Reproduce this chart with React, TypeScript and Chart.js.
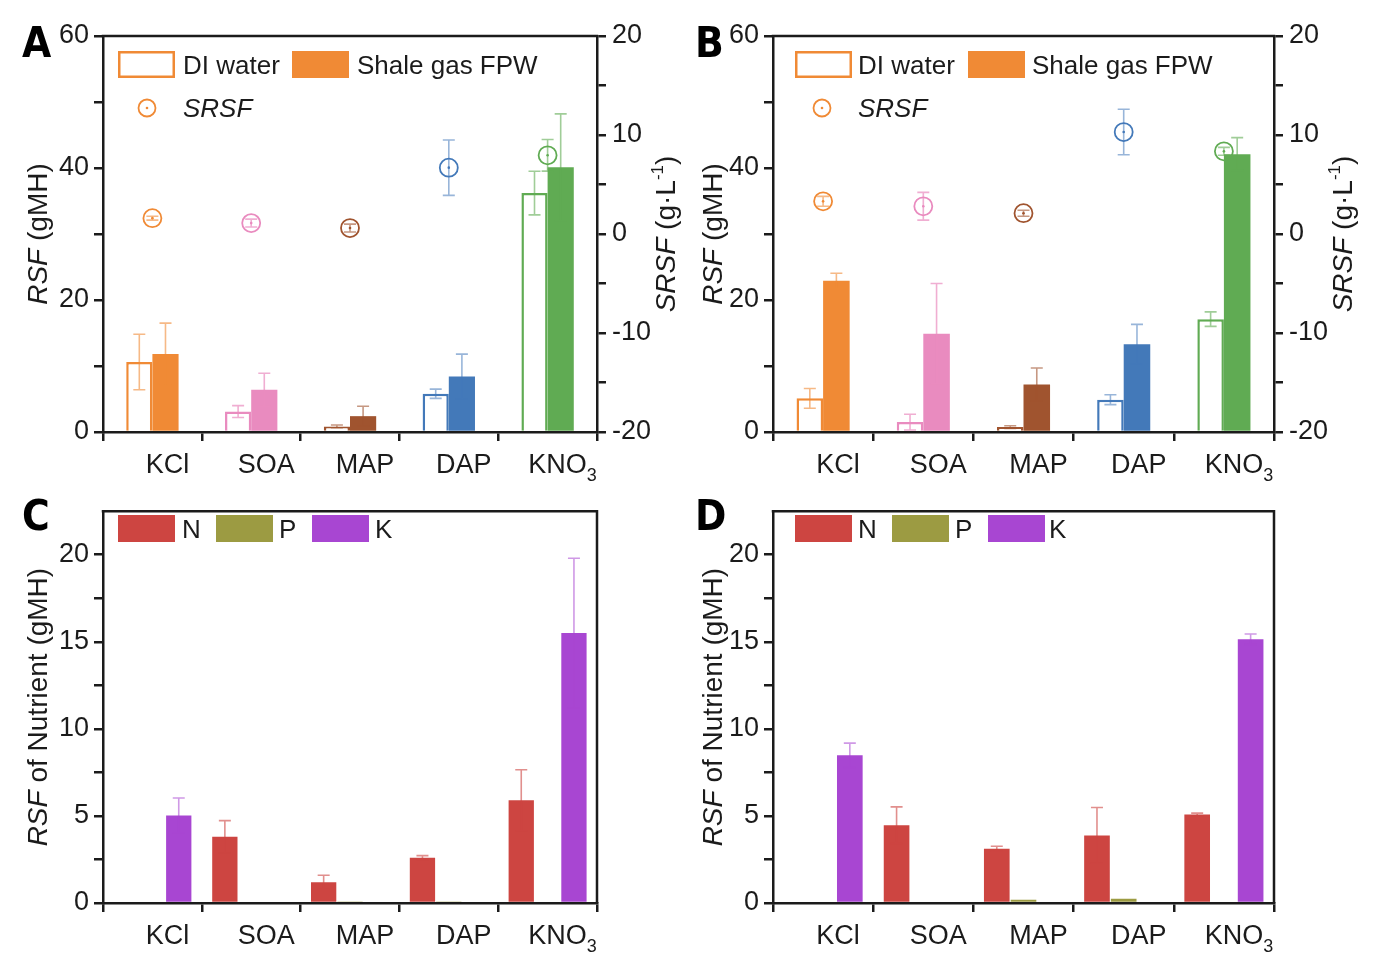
import React, { useEffect, useRef } from "react";
import { Chart, registerables } from "chart.js";

Chart.register(...registerables);

// ---------- data ----------
const categories = ["KCl", "SOA", "MAP", "DAP", "KNO3"];

// Panel A (RSF, gMH; SRSF, g/L)
const rsfDiA = [10.6, 3.1, 0.85, 5.8, 36.2];
const rsfDiErrA = [4.2, 0.9, 0.2, 0.7, 3.3];
const rsfFpwA = [11.8, 6.4, 2.4, 8.4, 40.1];
const rsfFpwErrA = [4.7, 2.5, 1.5, 3.4, 8.1];
const srsfA = [1.6, 1.1, 0.6, 6.7, 7.95];
const srsfErrA = [0.2, 0.4, 0.4, 2.8, 1.6];

// Panel B
const rsfDiB = [5.1, 1.5, 0.75, 4.9, 17.1];
const rsfDiErrB = [1.5, 1.2, 0.2, 0.75, 1.1];
const rsfFpwB = [22.9, 14.9, 7.2, 13.3, 42.1];
const rsfFpwErrB = [1.15, 7.6, 2.5, 3.0, 2.5];
const srsfB = [3.3, 2.8, 2.1, 10.3, 8.35];
const srsfErrB = [0.5, 1.4, 0.3, 2.3, 0.4];

// Panel C (RSF of nutrient, gMH)
const nutrientNC = [null, 3.8, 1.19, 2.6, 5.9];
const nutrientNErrC = [0, 0.93, 0.4, 0.12, 1.75];
const nutrientPC = [null, null, 0.08, 0.08, null];
const nutrientPErrC = [0, 0, 0, 0, 0];
const nutrientKC = [5.03, null, null, null, 15.5];
const nutrientKErrC = [1.0, 0, 0, 0, 4.3];

// Panel D
const nutrientND = [null, 4.47, 3.12, 3.88, 5.08];
const nutrientNErrD = [0, 1.05, 0.14, 1.6, 0.08];
const nutrientPD = [null, null, 0.18, 0.25, null];
const nutrientPErrD = [0, 0, 0, 0, 0];
const nutrientKD = [8.48, null, null, null, 15.15];
const nutrientKErrD = [0.7, 0, 0, 0, 0.3];

const rsfTickLabels = [0, 20, 40, 60];
const srsfTickLabels = [-20, -10, 0, 10, 20];
const nutrientTickLabels = [0, 5, 10, 15, 20];

// ---------- styles ----------
const saltColors = ["#F08A35", "#E98BBF", "#A0542F", "#4379B9", "#60AB53"];
const saltErrColors = [
  "rgba(240,138,53,0.6)",
  "rgba(233,139,191,0.7)",
  "rgba(160,84,47,0.6)",
  "rgba(67,121,185,0.55)",
  "rgba(96,171,83,0.6)",
];
const nutrientColors = ["#CD4541", "#9C9B42", "#A846D2"];
const nutrientErrColors = ["rgba(205,69,65,0.6)", "rgba(156,155,66,0.6)", "rgba(168,70,210,0.55)"];

const FONT = "'Liberation Sans', Arial, Helvetica, sans-serif";
const NARROW = "'Liberation Sans Narrow', 'DejaVu Sans Condensed', 'Liberation Sans', sans-serif";
const INK = "#1b1b1b";
const AXIS_W = 2.5;
const W = 692;
const H = 490;
const TICK_SIZE = 27;
const TITLE_SIZE = 28;
const LEGEND_SIZE = 26;

type Part = { t: string; italic?: boolean; size?: number; dy?: number };
type Area = { l: number; t: number; r: number; b: number };
type LegendItem = {
  kind: "open" | "fill" | "circle";
  x: number;
  y: number;
  color: string;
  label: string;
  italic?: boolean;
  textX: number;
};
type PanelSpec = {
  letter: string;
  letterX: number;
  letterY: number;
  area: Area;
  leftTitle: Part[];
  leftTitleX: number;
  rightTitle?: Part[];
  rightTitleX?: number;
  legend: LegendItem[];
};

function drawParts(ctx: CanvasRenderingContext2D, parts: Part[], x: number, y: number, rot: number, base: number) {
  ctx.save();
  ctx.translate(x, y);
  ctx.rotate(rot);
  const fontOf = (p: Part) => `${p.italic ? "italic " : ""}${p.size ?? base}px ${FONT}`;
  let w = 0;
  parts.forEach((p) => {
    ctx.font = fontOf(p);
    w += ctx.measureText(p.t).width;
  });
  let cx = -w / 2;
  ctx.textAlign = "left";
  ctx.textBaseline = "alphabetic";
  ctx.fillStyle = INK;
  const mid = base * 0.36;
  parts.forEach((p) => {
    ctx.font = fontOf(p);
    ctx.fillText(p.t, cx, mid + (p.dy ?? 0));
    cx += ctx.measureText(p.t).width;
  });
  ctx.restore();
}

function labelParts(label: string): Part[] {
  const m = label.match(/^(.*?)(\d+)$/);
  if (m) return [{ t: m[1] }, { t: m[2], size: 18, dy: 8 }];
  return [{ t: label }];
}

function decorPlugin(spec: PanelSpec) {
  return {
    id: "decor" + spec.letter,
    afterDraw(chart: any) {
      const ctx: CanvasRenderingContext2D = chart.ctx;
      const { left, right, top, bottom } = chart.chartArea;
      ctx.save();
      // frame (top, and right when no right axis)
      ctx.strokeStyle = INK;
      ctx.lineWidth = AXIS_W;
      ctx.beginPath();
      ctx.moveTo(left - AXIS_W / 2, top);
      ctx.lineTo(right + AXIS_W / 2, top);
      if (!spec.rightTitle) {
        ctx.moveTo(right, top);
        ctx.lineTo(right, bottom);
      }
      ctx.stroke();

      // category labels
      const xs = chart.scales.x;
      categories.forEach((c, i) => {
        const cx = xs.getPixelForValue(i) + 15;
        drawParts(ctx, labelParts(c), cx, bottom + 41 - TICK_SIZE * 0.36, 0, TICK_SIZE);
      });

      // axis titles
      const cy = (top + bottom) / 2;
      drawParts(ctx, spec.leftTitle, spec.leftTitleX, cy, -Math.PI / 2, TITLE_SIZE);
      if (spec.rightTitle && spec.rightTitleX) {
        drawParts(ctx, spec.rightTitle, spec.rightTitleX, cy, -Math.PI / 2, TITLE_SIZE);
      }

      // legend
      spec.legend.forEach((it) => {
        if (it.kind === "open") {
          ctx.fillStyle = "#fff";
          ctx.fillRect(it.x, it.y, 57, 27);
          ctx.strokeStyle = it.color;
          ctx.lineWidth = 2.5;
          ctx.strokeRect(it.x + 1.25, it.y + 1.25, 54.5, 24.5);
        } else if (it.kind === "fill") {
          ctx.fillStyle = it.color;
          ctx.fillRect(it.x, it.y, 57, 27);
        } else {
          ctx.strokeStyle = it.color;
          ctx.lineWidth = 1.8;
          ctx.beginPath();
          ctx.arc(it.x, it.y, 8.5, 0, Math.PI * 2);
          ctx.stroke();
          ctx.fillStyle = it.color;
          ctx.beginPath();
          ctx.arc(it.x, it.y, 1.3, 0, Math.PI * 2);
          ctx.fill();
        }
        const ty = it.kind === "circle" ? it.y : it.y + 13.5;
        ctx.save();
        ctx.font = `${it.italic ? "italic " : ""}${LEGEND_SIZE}px ${FONT}`;
        ctx.fillStyle = INK;
        ctx.textAlign = "left";
        ctx.textBaseline = "alphabetic";
        ctx.fillText(it.label, it.textX, ty + LEGEND_SIZE * 0.36);
        ctx.restore();
      });

      // panel letter
      ctx.font = `bold 42px ${NARROW}`;
      ctx.fillStyle = "#000";
      ctx.textAlign = "left";
      ctx.textBaseline = "alphabetic";
      ctx.fillText(spec.letter, spec.letterX, spec.letterY);
      ctx.restore();
    },
  };
}

const errorBarPlugin = {
  id: "errorBars",
  afterDatasetsDraw(chart: any) {
    const ctx: CanvasRenderingContext2D = chart.ctx;
    chart.data.datasets.forEach((ds: any, di: number) => {
      const meta = chart.getDatasetMeta(di);
      const ys = chart.scales[meta.yAxisID];
      meta.data.forEach((el: any, i: number) => {
        const v = ds.data[i];
        if (v == null) return;
        if (ds.centerDot) {
          ctx.save();
          ctx.fillStyle = ds.dotColors[i];
          ctx.beginPath();
          ctx.arc(el.x, el.y, 1.3, 0, Math.PI * 2);
          ctx.fill();
          ctx.restore();
        }
        const e = ds.errors ? ds.errors[i] : 0;
        if (!e) return;
        const yT = ys.getPixelForValue(v + e);
        const yB = ys.getPixelForValue(ds.centerDot ? v - e : Math.max(v - e, 0));
        const cap = 6;
        ctx.save();
        ctx.strokeStyle = ds.errorColors[i];
        ctx.lineWidth = 1.6;
        ctx.beginPath();
        ctx.moveTo(el.x, yT);
        ctx.lineTo(el.x, yB);
        ctx.moveTo(el.x - cap, yT);
        ctx.lineTo(el.x + cap, yT);
        ctx.moveTo(el.x - cap, yB);
        ctx.lineTo(el.x + cap, yB);
        ctx.stroke();
        ctx.restore();
      });
    });
  },
};

function axisGrid() {
  return {
    drawOnChartArea: false,
    drawTicks: true,
    tickLength: 9,
    color: INK,
    lineWidth: AXIS_W,
  };
}
function axisBorder() {
  return { display: true, color: INK, width: AXIS_W };
}
function tickFont() {
  return { family: FONT, size: TICK_SIZE };
}

function xScale(area: Area) {
  return {
    type: "category",
    offset: true,
    grid: { ...axisGrid(), offset: true },
    border: axisBorder(),
    ticks: { display: false },
    afterFit: (s: any) => {
      s.height = H - area.b;
    },
  };
}

function rsfConfig(spec: PanelSpec, di: number[], diErr: number[], fpw: number[], fpwErr: number[], srsf: number[], srsfErr: number[]) {
  const area = spec.area;
  return {
    type: "bar",
    data: {
      labels: categories,
      datasets: [
        {
          type: "line",
          label: "SRSF",
          data: srsf,
          yAxisID: "y2",
          showLine: false,
          pointRadius: 9,
          pointHoverRadius: 9,
          pointBorderWidth: 1.8,
          pointBackgroundColor: "rgba(255,255,255,0)",
          pointBorderColor: saltColors,
          errors: srsfErr,
          errorColors: saltErrColors,
          centerDot: true,
          dotColors: saltColors,
        },
        {
          type: "bar",
          label: "DI water",
          data: di,
          yAxisID: "y",
          backgroundColor: "#ffffff",
          borderColor: saltColors,
          borderWidth: 2.5,
          borderSkipped: "bottom",
          categoryPercentage: 0.53,
          barPercentage: 1.0,
          errors: diErr,
          errorColors: saltErrColors,
        },
        {
          type: "bar",
          label: "Shale gas FPW",
          data: fpw,
          yAxisID: "y",
          backgroundColor: saltColors,
          borderWidth: 0,
          categoryPercentage: 0.53,
          barPercentage: 1.0,
          errors: fpwErr,
          errorColors: saltErrColors,
        },
      ],
    },
    options: {
      responsive: false,
      animation: false,
      devicePixelRatio: 1,
      events: [],
      layout: { padding: { top: area.t, left: 0, right: 0, bottom: 0 } },
      plugins: { legend: { display: false }, tooltip: { enabled: false } },
      scales: {
        x: xScale(area),
        y: {
          position: "left",
          min: 0,
          max: 60,
          grid: axisGrid(),
          border: axisBorder(),
          ticks: {
            stepSize: 10,
            padding: 5,
            color: INK,
            font: tickFont(),
            callback: (v: number) => (rsfTickLabels.includes(v) ? String(v) : ""),
          },
          afterFit: (s: any) => {
            s.width = area.l;
          },
        },
        y2: {
          position: "right",
          min: -20,
          max: 20,
          grid: axisGrid(),
          border: axisBorder(),
          ticks: {
            stepSize: 5,
            padding: 6,
            color: INK,
            font: tickFont(),
            callback: (v: number) => (srsfTickLabels.includes(v) ? String(v) : ""),
          },
          afterFit: (s: any) => {
            s.width = W - area.r;
          },
        },
      },
    },
    plugins: [errorBarPlugin, decorPlugin(spec)],
  };
}

function nutrientConfig(spec: PanelSpec, n: any[], nErr: number[], p: any[], pErr: number[], k: any[], kErr: number[]) {
  const area = spec.area;
  const mk = (label: string, data: any[], err: number[], idx: number) => ({
    label,
    data,
    backgroundColor: nutrientColors[idx],
    borderWidth: 0,
    categoryPercentage: 0.8,
    barPercentage: 0.96,
    errors: err,
    errorColors: Array(5).fill(nutrientErrColors[idx]),
  });
  return {
    type: "bar",
    data: {
      labels: categories,
      datasets: [mk("N", n, nErr, 0), mk("P", p, pErr, 1), mk("K", k, kErr, 2)],
    },
    options: {
      responsive: false,
      animation: false,
      devicePixelRatio: 1,
      events: [],
      layout: { padding: { top: area.t, left: 0, right: W - area.r, bottom: 0 } },
      plugins: { legend: { display: false }, tooltip: { enabled: false } },
      scales: {
        x: xScale(area),
        y: {
          position: "left",
          min: 0,
          max: 22.5,
          grid: axisGrid(),
          border: axisBorder(),
          ticks: {
            stepSize: 2.5,
            padding: 5,
            color: INK,
            font: tickFont(),
            callback: (v: number) => (nutrientTickLabels.includes(v) ? String(v) : ""),
          },
          afterBuildTicks: (s: any) => {
            s.ticks = s.ticks.filter((t: any) => t.value <= 20.001);
          },
          afterFit: (s: any) => {
            s.width = area.l;
          },
        },
      },
    },
    plugins: [errorBarPlugin, decorPlugin(spec)],
  };
}

const rsfLeftTitle: Part[] = [{ t: "RSF", italic: true }, { t: " (gMH)" }];
const srsfRightTitle: Part[] = [
  { t: "SRSF", italic: true },
  { t: " (g·L" },
  { t: "-1", size: 17, dy: -12 },
  { t: ")" },
];
const nutrientTitle: Part[] = [{ t: "RSF", italic: true }, { t: " of Nutrient (gMH)" }];

const specA: PanelSpec = {
  letter: "A",
  letterX: 22,
  letterY: 57,
  area: { l: 103, t: 36, r: 597, b: 432 },
  leftTitle: rsfLeftTitle,
  leftTitleX: 37,
  rightTitle: srsfRightTitle,
  rightTitleX: 665,
  legend: [
    { kind: "open", x: 118, y: 51, color: saltColors[0], label: "DI water", textX: 183 },
    { kind: "fill", x: 292, y: 51, color: saltColors[0], label: "Shale gas FPW", textX: 357 },
    { kind: "circle", x: 147, y: 108, color: saltColors[0], label: "SRSF", italic: true, textX: 183 },
  ],
};
const specB: PanelSpec = {
  letter: "B",
  letterX: 3,
  letterY: 57,
  area: { l: 81, t: 36, r: 582, b: 432 },
  leftTitle: rsfLeftTitle,
  leftTitleX: 20,
  rightTitle: srsfRightTitle,
  rightTitleX: 650,
  legend: [
    { kind: "open", x: 103, y: 51, color: saltColors[0], label: "DI water", textX: 166 },
    { kind: "fill", x: 276, y: 51, color: saltColors[0], label: "Shale gas FPW", textX: 340 },
    { kind: "circle", x: 130, y: 108, color: saltColors[0], label: "SRSF", italic: true, textX: 166 },
  ],
};
const specC: PanelSpec = {
  letter: "C",
  letterX: 22,
  letterY: 40,
  area: { l: 103, t: 17, r: 597, b: 413 },
  leftTitle: nutrientTitle,
  leftTitleX: 37,
  legend: [
    { kind: "fill", x: 118, y: 25, color: nutrientColors[0], label: "N", textX: 182 },
    { kind: "fill", x: 216, y: 25, color: nutrientColors[1], label: "P", textX: 279 },
    { kind: "fill", x: 312, y: 25, color: nutrientColors[2], label: "K", textX: 375 },
  ],
};
const specD: PanelSpec = {
  letter: "D",
  letterX: 3,
  letterY: 40,
  area: { l: 81, t: 17, r: 582, b: 413 },
  leftTitle: nutrientTitle,
  leftTitleX: 20,
  legend: [
    { kind: "fill", x: 103, y: 25, color: nutrientColors[0], label: "N", textX: 166 },
    { kind: "fill", x: 200, y: 25, color: nutrientColors[1], label: "P", textX: 263 },
    { kind: "fill", x: 296, y: 25, color: nutrientColors[2], label: "K", textX: 357 },
  ],
};

function Panel({ make, left, top }: { make: () => any; left: number; top: number }) {
  const ref = useRef<HTMLCanvasElement | null>(null);
  useEffect(() => {
    if (!ref.current) return;
    const chart = new Chart(ref.current, make());
    return () => chart.destroy();
  }, []);
  return (
    <canvas
      ref={ref}
      width={W}
      height={H}
      style={{ position: "absolute", left, top, width: W, height: H }}
    />
  );
}

export default function App() {
  return (
    <div style={{ position: "absolute", left: 0, top: 0, width: 1384, height: 980, background: "#fff" }}>
      <Panel left={0} top={0} make={() => rsfConfig(specA, rsfDiA, rsfDiErrA, rsfFpwA, rsfFpwErrA, srsfA, srsfErrA)} />
      <Panel left={692} top={0} make={() => rsfConfig(specB, rsfDiB, rsfDiErrB, rsfFpwB, rsfFpwErrB, srsfB, srsfErrB)} />
      <Panel left={0} top={490} make={() => nutrientConfig(specC, nutrientNC, nutrientNErrC, nutrientPC, nutrientPErrC, nutrientKC, nutrientKErrC)} />
      <Panel left={692} top={490} make={() => nutrientConfig(specD, nutrientND, nutrientNErrD, nutrientPD, nutrientPErrD, nutrientKD, nutrientKErrD)} />
    </div>
  );
}
